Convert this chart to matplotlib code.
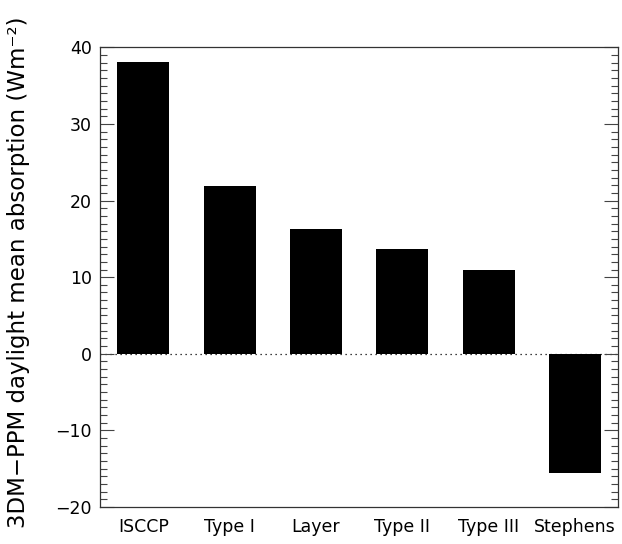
import matplotlib
matplotlib.use('Agg')

import matplotlib.pyplot as plt
from matplotlib.ticker import MultipleLocator
import numpy as np

# data
categories = ["ISCCP", "Type I", "Layer", "Type II", "Type III", "Stephens"]
absorption = [38.1, 21.9, 16.3, 13.7, 10.9, -15.6]

fig = plt.figure(figsize=(6.22, 5.44), dpi=100)
ax = fig.add_axes([0.161, 0.068, 0.833, 0.845])

x = np.arange(len(categories))

#dotted zero line behind the bars
ax.axhline(0, color="black", linestyle=(0, (1, 3)), linewidth=0.9, zorder=1)
ax.bar(x, absorption, width=0.6, color="black", zorder=2)

ax.set_xlim(-0.5, len(categories) - 0.5)
ax.set_ylim(-20, 40)
ax.set_xticks(x)
ax.set_xticklabels(categories)
ax.tick_params(axis="x", length=0, pad=8, labelsize=12.5)

ax.yaxis.set_major_locator(MultipleLocator(10))
ax.yaxis.set_minor_locator(MultipleLocator(1))
ax.tick_params(axis="y", which="both", direction="in", left=True, right=True,
               labelsize=12.5, pad=6, color="#444444")
ax.tick_params(axis="y", which="major", length=10, width=0.8)
ax.tick_params(axis="y", which="minor", length=5, width=0.8)

for s in ax.spines.values():
	s.set_linewidth(0.9)
	s.set_color("#333333")

ax.set_ylabel("3DM\u2212PPM daylight mean absorption (Wm\u207b\u00b2)", fontsize=16.5)
ax.yaxis.set_label_coords(-0.135, 0.51)

fig.savefig("out.png", dpi=100)
